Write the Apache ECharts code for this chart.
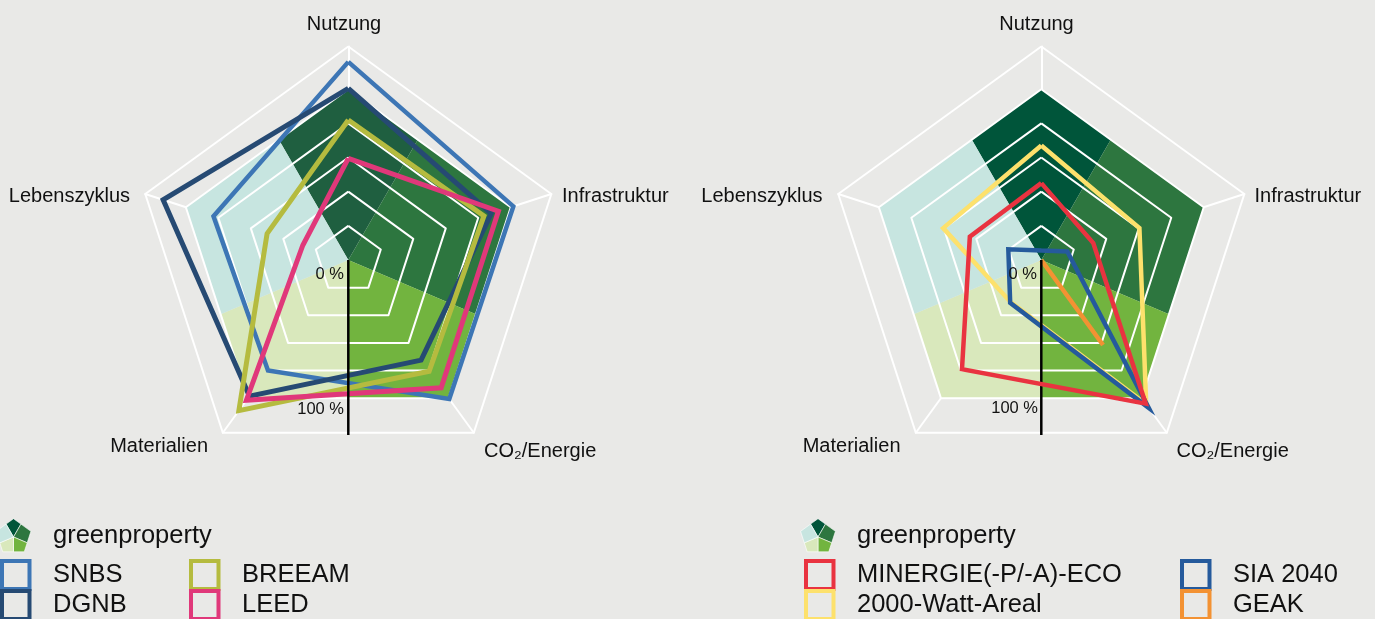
<!DOCTYPE html>
<html>
<head>
<meta charset="utf-8">
<title>Radar Labels</title>
<script src="https://cdn.jsdelivr.net/npm/echarts@6/dist/echarts.min.js"></script>
<style>
html, body { margin: 0; padding: 0; background: #e9e9e7; overflow: hidden; }
#main { width: 1375px; height: 619px; }
</style>
</head>
<body>
<div id="main"></div>
<script>
// Kategorien (im Uhrzeigersinn ab oben)
var categories = ['Nutzung', 'Infrastruktur', 'CO₂/Energie', 'Materialien', 'Lebenszyklus'];
var axisMax = 125;
var ringLevels = [20, 40, 60, 80, 100, 125];

// linkes Diagramm
var snbs = [116, 101.6, 100.6, 80, 83];
var dgnb = [100.5, 88, 72.5, 98.5, 114];
var breeam = [82, 83.5, 80.5, 109, 50];
var leed = [59.5, 92.4, 92.5, 101.5, 28];

// rechtes Diagramm
var minergie = [45, 32, 104, 79, 44];
var watt2000 = [67, 60.4, 104.5, 30.5, 60.4];
var sia2040 = [5.5, 16, 107, 31, 20.3];
var geak = [0, 0, 61.5, 0, 0];

// greenproperty Flaechen: Radius und Winkel je Eckpunkt
var kiteRadius = [
    [0, 81.3, 100, 81.3],
    [0, 81.3, 100, 81.2],
    [0, 81.2, 100, 80.9],
    [0, 80.9, 100, 81.2],
    [0, 81.2, 100, 81.3]
];
var kiteAngle = [
    [0, 330, 360, 390],
    [0, 30, 72, 113],
    [0, 113, 144, 180],
    [0, 180, 216, 247],
    [0, 247, 288, 330]
];
var kiteColorsLeft = ['#1f5f40', '#2d763f', '#72b43f', '#d9e8bc', '#c7e5e0'];
var kiteColorsRight = ['#00553a', '#2d763f', '#72b43f', '#d9e8bc', '#c7e5e0'];

// schwarze Achse
var blackAxisAngle = 180;
var blackAxisEnd = 102.5;

var FONT = '"Liberation Sans", Arial, sans-serif';

// radar laeuft gegen den Uhrzeigersinn, deshalb umsortieren
function radarOrder(arr) {
    return [arr[0], arr[4], arr[3], arr[2], arr[1]];
}

function radarOf(cx) {
    return {
        center: [cx, 260],
        radius: 213.5,
        startAngle: 90,
        shape: 'polygon',
        axisName: { show: false },
        indicator: radarOrder(categories).map(function (c) { return { name: c, min: 0, max: axisMax }; }),
        axisLine: { lineStyle: { color: '#fff', width: 2 } },
        axisTick: { show: false },
        axisLabel: { show: false },
        splitLine: { show: false },
        splitArea: { show: false }
    };
}
function polarOf(cx, cy, r) {
    return { center: [cx, cy], radius: [0, r] };
}
function angleAxisOf(i) {
    return { polarIndex: i, type: 'value', min: 0, max: 360, startAngle: 90, show: false };
}
function radiusAxisOf(i) {
    return { polarIndex: i, type: 'value', min: 0, max: axisMax, show: false };
}

function kiteSeries(polarIndex, colors, strokeWidth) {
    return {
        type: 'custom',
        coordinateSystem: 'polar',
        polarIndex: polarIndex,
        z: 1,
        silent: true,
        data: [[0, 0], [1, 0], [2, 0], [3, 0], [4, 0]],
        renderItem: function (params, api) {
            var i = params.dataIndex;
            var pts = kiteRadius[i].map(function (r, k) {
                return api.coord([r, kiteAngle[i][k]]);
            });
            return {
                type: 'polygon',
                shape: { points: pts },
                style: { fill: colors[i], stroke: strokeWidth ? '#fff' : null, lineWidth: strokeWidth }
            };
        }
    };
}
function ringSeries(radarIndex) {
    return ringLevels.map(function (level) {
        return {
            type: 'radar',
            radarIndex: radarIndex,
            z: 2,
            silent: true,
            symbol: 'none',
            lineStyle: { color: '#fff', width: 2 },
            data: [{ value: categories.map(function () { return level; }) }]
        };
    });
}
function scoreSeries(radarIndex, name, values, color, width, z) {
    return {
        type: 'radar',
        name: name,
        radarIndex: radarIndex,
        z: z || 3,
        symbol: 'none',
        itemStyle: { color: color },
        lineStyle: { color: color, width: width, join: 'miter', miterLimit: 10 },
        data: [{ name: name, value: radarOrder(values) }]
    };
}
function blackAxis(polarIndex) {
    return {
        type: 'line',
        coordinateSystem: 'polar',
        polarIndex: polarIndex,
        z: 3.5,
        silent: true,
        symbol: 'none',
        lineStyle: { color: '#000', width: 2.5 },
        data: [[0, blackAxisAngle], [blackAxisEnd, blackAxisAngle]]
    };
}
function legendOf(left, items) {
    return {
        left: left,
        top: 559,
        height: 90,
        padding: 0,
        orient: 'vertical',
        icon: 'rect',
        itemWidth: 27.5,
        itemHeight: 28,
        itemGap: -2, // Rahmen zaehlt zur Hoehe, Quadrate sollen sich beruehren
        selectedMode: false,
        textStyle: { color: '#111', fontSize: 25.5, lineHeight: 28, fontFamily: FONT, padding: [0, 0, 0, 18.5] },
        data: items.map(function (it) {
            return { name: it[0], itemStyle: { color: 'transparent', borderColor: it[1], borderWidth: 4 } };
        })
    };
}
function note(x, y, text, size, align) {
    return {
        type: 'text',
        x: x,
        y: y,
        z: 20,
        style: { text: text, fill: '#111', font: size + 'px ' + FONT, textAlign: align || 'left', textVerticalAlign: 'middle' }
    };
}
// Achsenbeschriftung einer Spinne, dx = Abstand zum linken Diagramm
function axisNames(dx) {
    return [
        note(344 + dx, 24, categories[0], 20, 'center'),
        note(562 + dx, 196, categories[1], 20, 'left'),
        note(484 + dx, 451, categories[2], 20, 'left'),
        note(208 + dx, 446, categories[3], 20, 'right'),
        note(130 + dx, 196, categories[4], 20, 'right')
    ];
}

var chart = echarts.init(document.getElementById('main'));
chart.setOption({
    backgroundColor: '#e9e9e7',
    animation: false,
    radar: [radarOf(348.3), radarOf(1041.3)],
    polar: [
        polarOf(348.3, 260, 213.5), polarOf(1041.3, 260, 213.5),
        polarOf(13.5, 537, 22.9), polarOf(818, 537, 22.9)
    ],
    angleAxis: [angleAxisOf(0), angleAxisOf(1), angleAxisOf(2), angleAxisOf(3)],
    radiusAxis: [radiusAxisOf(0), radiusAxisOf(1), radiusAxisOf(2), radiusAxisOf(3)],
    legend: [
        legendOf(0, [['SNBS', '#3d76b5'], ['DGNB', '#264a73']]),
        legendOf(189, [['BREEAM', '#b5bb3f'], ['LEED', '#e0387a']]),
        legendOf(804, [['MINERGIE(-P/-A)-ECO', '#e93340'], ['2000-Watt-Areal', '#fde16c']]),
        legendOf(1180, [['SIA 2040', '#255a9c'], ['GEAK', '#f39233']])
    ],
    graphic: [
        note(344, 274, '0 %', 16.5, 'right'),
        note(344, 409, '100 %', 16.5, 'right'),
        note(1037, 274, '0 %', 16.5, 'right'),
        note(1038, 408, '100 %', 16.5, 'right'),
        note(53, 536, 'greenproperty', 25.5),
        note(857, 536, 'greenproperty', 25.5)
    ].concat(axisNames(0), axisNames(692.5)),
    series: [].concat(
        kiteSeries(0, kiteColorsLeft, 0),
        kiteSeries(1, kiteColorsRight, 0),
        kiteSeries(2, kiteColorsRight, 0.6),
        kiteSeries(3, kiteColorsRight, 0.6),
        ringSeries(0),
        ringSeries(1),
        blackAxis(0),
        blackAxis(1),
        scoreSeries(0, 'SNBS', snbs, '#3d76b5', 4.5),
        scoreSeries(0, 'DGNB', dgnb, '#264a73', 5),
        scoreSeries(0, 'BREEAM', breeam, '#b5bb3f', 5),
        scoreSeries(0, 'LEED', leed, '#e0387a', 5),
        scoreSeries(1, '2000-Watt-Areal', watt2000, '#fde16c', 4.5),
        scoreSeries(1, 'MINERGIE(-P/-A)-ECO', minergie, '#e93340', 4.5, 4),
        scoreSeries(1, 'SIA 2040', sia2040, '#255a9c', 4.5),
        scoreSeries(1, 'GEAK', geak, '#f39233', 4.5)
    )
});
</script>
</body>
</html>
